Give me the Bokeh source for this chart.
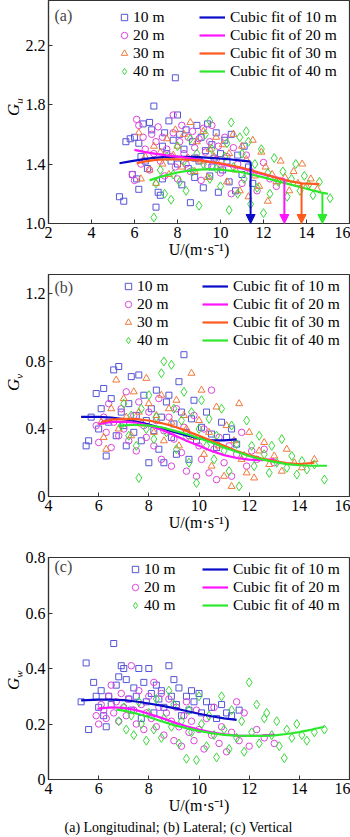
import math
from bokeh.plotting import figure
from bokeh.layouts import column, row
from bokeh.models import (Legend, LegendItem, Label, Title, FixedTicker, Arrow,
                          NormalHead, ColumnDataSource, Range1d, Div)
from bokeh.embed import file_html
from bokeh.resources import INLINE

FONT = "Liberation Serif"

# ---------------- data ----------------
heights_a = ["10 m", "20 m", "30 m", "40 m"]
heights_c = ["10 m", "20 m", "40 m"]

a10 = [(5.3,1.18),(5.5,1.15),(5.6,1.55),(5.8,1.57),(5.9,1.33),(6.0,1.58),(6.1,1.30),(6.2,1.23),(6.3,1.45),(6.4,1.67),
       (6.5,1.42),(6.6,1.37),(6.7,1.68),(6.8,1.63),(6.9,1.79),(7.0,1.11),(7.1,1.21),(7.2,1.19),(7.3,1.52),(7.4,1.61),
       (7.5,1.47),(7.6,1.69),(7.7,1.42),(7.8,1.56),(7.9,1.98),(8.0,1.73),(8.1,1.60),(8.2,1.26),(8.3,1.50),(8.4,1.63),
       (8.5,1.37),(8.6,1.14),(8.7,1.55),(8.8,1.44),(8.9,1.66),(9.0,1.42),(9.1,1.58),(9.2,1.24),(9.3,1.49),(9.4,1.67),
       (9.5,1.32),(9.6,1.53),(9.7,1.44),(9.8,1.61),(9.9,1.21),(10.0,1.47),(10.1,1.36),(10.2,1.56),(10.4,1.28),(10.5,1.60),
       (10.7,1.22),(10.8,1.46),(11.0,1.33),(11.1,1.52),(11.3,1.38),(11.5,1.27),(6.2,1.54),(7.3,1.30),(8.0,1.40),(8.8,1.31),
       (9.6,1.38),(10.3,1.42)]
a20 = [(5.9,1.33),(6.0,1.29),(6.1,1.70),(6.2,1.66),(6.3,1.40),(6.4,1.58),(6.5,1.50),(6.7,1.36),(6.8,1.60),(6.9,1.47),
       (7.0,1.55),(7.1,1.65),(7.2,1.42),(7.3,1.58),(7.4,1.32),(7.5,1.50),(7.8,1.73),(7.7,1.45),(7.8,1.61),(7.9,1.38),
       (8.0,1.30),(8.1,1.55),(8.2,1.66),(8.3,1.47),(8.4,1.40),(8.5,1.58),(8.6,1.35),(8.7,1.62),(8.8,1.51),(8.9,1.44),
       (9.0,1.57),(9.1,1.29),(9.2,1.64),(9.3,1.48),(9.4,1.39),(9.5,1.55),(9.6,1.66),(9.8,1.43),(9.9,1.52),(10.0,1.34),
       (10.2,1.58),(10.3,1.45),(10.5,1.20),(10.6,1.51),(10.8,1.40),(11.0,1.27),(11.2,1.46),(11.4,1.35),(11.7,1.22),(12.0,1.41),
       (12.3,1.30),(12.6,1.25)]
a30 = [(6.2,1.61),(6.3,1.30),(6.5,1.45),(6.7,1.36),(6.9,1.52),(7.0,1.27),(7.2,1.48),(7.3,1.40),(7.5,1.57),(7.6,1.33),
       (7.8,1.46),(7.9,1.63),(8.0,1.52),(8.2,1.38),(8.3,1.60),(8.5,1.44),(8.6,1.68),(8.8,1.35),(8.9,1.55),(9.1,1.42),
       (9.2,1.62),(9.4,1.31),(9.5,1.50),(9.7,1.45),(9.8,1.58),(10.0,1.38),(10.1,1.53),(10.3,1.28),(10.4,1.47),(10.6,1.60),
       (10.7,1.36),(10.9,1.22),(11.0,1.52),(11.2,1.43),(11.3,1.18),(11.5,1.56),(11.6,1.32),(11.8,1.25),(11.9,1.48),(12.1,1.38),
       (12.2,1.15),(12.4,1.33),(12.6,1.28),(12.8,1.42),(13.0,1.31),(13.2,1.22),(13.4,1.35),(13.6,1.27),(13.8,1.40),(14.0,1.25),
       (14.2,1.30),(14.5,1.23)]
a40 = [(6.9,1.04),(7.0,1.27),(7.2,1.36),(7.4,1.20),(7.5,1.45),(7.7,1.16),(7.8,1.33),(8.0,1.52),(8.1,1.28),(8.3,1.42),
       (8.4,1.22),(8.6,1.57),(8.7,1.35),(8.9,1.47),(9.0,1.12),(9.2,1.40),(9.3,1.60),(9.5,1.30),(9.6,1.50),(9.8,1.37),
       (9.5,1.69),(10.0,1.25),(10.2,1.45),(10.3,1.54),(10.4,1.09),(10.6,1.38),(10.5,1.68),(10.8,1.20),(11.0,1.47),(11.1,1.30),
       (11.3,1.55),(11.4,1.13),(11.6,1.40),(11.7,1.24),(11.9,1.50),(12.0,1.07),(12.2,1.34),(12.3,1.20),(12.5,1.44),(12.7,1.28),
       (12.9,1.35),(13.1,1.18),(13.3,1.30),(13.5,1.40),(13.7,1.22),(13.9,1.32),(14.1,1.26),(14.3,1.19),(14.6,1.28),(15.1,1.17),
       (11.2,1.62),(10.9,1.58)]

b10 = [(5.5,0.30),(5.6,0.33),(5.7,0.47),(5.9,0.61),(6.0,0.40),(6.1,0.52),(6.2,0.64),(6.3,0.24),(6.4,0.44),(6.5,0.58),
       (6.6,0.75),(6.7,0.36),(6.8,0.77),(6.9,0.50),(7.0,0.42),(7.1,0.30),(7.2,0.55),(7.3,0.71),(7.4,0.38),(7.5,0.48),
       (7.6,0.72),(7.7,0.33),(7.8,0.60),(7.9,0.45),(8.0,0.20),(8.1,0.52),(8.2,0.39),(8.3,0.63),(8.4,0.28),(8.5,0.47),
       (8.6,0.20),(8.7,0.56),(8.8,0.60),(8.9,0.35),(9.0,0.43),(9.1,0.25),(9.2,0.68),(9.3,0.50),(9.4,0.84),(9.5,0.38),
       (9.6,0.22),(9.7,0.46),(9.8,0.57),(9.9,0.33),(10.1,0.41),(10.3,0.50),(10.5,0.37),(10.7,0.29),(10.9,0.44),(11.1,0.35),
       (11.3,0.40),(11.5,0.31)]
b20 = [(5.9,0.42),(6.0,0.32),(6.2,0.47),(6.3,0.38),(6.4,0.55),(6.5,0.29),(6.6,0.44),(6.8,0.36),(6.9,0.52),(7.0,0.40),
       (7.1,0.62),(7.2,0.33),(7.4,0.48),(7.5,0.27),(7.6,0.56),(7.8,0.42),(7.9,0.35),(8.0,0.50),(8.2,0.30),(8.3,0.45),
       (8.4,0.58),(8.5,0.22),(8.6,0.39),(8.8,0.47),(8.9,0.18),(9.0,0.34),(9.1,0.52),(9.3,0.26),(9.4,0.41),(9.5,0.15),
       (9.6,0.36),(9.8,0.48),(9.9,0.12),(10.0,0.30),(10.1,0.22),(10.2,0.40),(10.4,0.14),(10.5,0.63),(10.6,0.28),(10.7,0.10),
       (10.8,0.35),(11.0,0.20),(11.2,0.30),(11.3,0.12),(11.5,0.25),(11.7,0.38),(11.9,0.18),(12.1,0.27),(12.3,0.22),(12.6,0.28),
       (13.0,0.20)]
b30 = [(6.1,0.44),(6.2,0.35),(6.3,0.28),(6.5,0.52),(6.7,0.69),(6.8,0.40),(7.0,0.58),(7.1,0.47),(7.3,0.36),(7.4,0.62),
       (7.6,0.50),(7.7,0.43),(7.9,0.70),(8.0,0.55),(8.2,0.38),(8.3,0.48),(8.5,0.60),(8.6,0.33),(8.8,0.52),(8.9,0.44),
       (9.1,0.57),(9.2,0.30),(9.4,0.48),(9.5,0.40),(9.7,0.73),(9.8,0.35),(10.0,0.45),(10.1,0.63),(10.2,0.25),(10.4,0.38),
       (10.5,0.18),(10.7,0.53),(10.8,0.30),(11.0,0.12),(11.1,0.42),(11.3,0.06),(11.4,0.33),(11.6,0.55),(11.7,0.22),(11.9,0.14),
       (12.0,0.38),(12.2,0.11),(12.4,0.27),(12.6,0.32),(12.8,0.19),(13.0,0.24),(13.3,0.15),(13.5,0.28),(13.8,0.20),(14.1,0.17),
       (14.6,0.22)]
b40 = [(6.9,0.42),(7.0,0.55),(7.2,0.36),(7.3,0.48),(7.5,0.30),(7.6,0.11),(7.7,0.52),(7.9,0.40),(8.0,0.60),(8.2,0.34),
       (8.3,0.47),(8.5,0.73),(8.6,0.80),(8.7,0.38),(8.9,0.78),(9.0,0.52),(9.1,0.28),(9.3,0.45),(9.4,0.62),(9.5,0.35),
       (9.6,0.20),(9.7,0.50),(9.9,0.08),(10.0,0.40),(10.1,0.57),(10.3,0.30),(10.4,0.46),(10.6,0.22),(10.7,0.36),(10.9,0.52),
       (11.0,0.27),(11.2,0.15),(11.3,0.42),(11.5,0.31),(11.6,0.06),(11.8,0.24),(11.9,0.45),(12.1,0.30),(12.2,0.18),(12.4,0.36),
       (12.6,0.25),(12.8,0.14),(12.9,0.30),(13.1,0.20),(13.3,0.34),(13.5,0.17),(13.7,0.24),(13.9,0.13),(14.1,0.21),(14.3,0.16),
       (14.6,0.19),(15.0,0.10)]

c10 = [(5.3,0.28),(5.5,0.42),(5.6,0.18),(5.8,0.35),(5.9,0.30),(6.0,0.26),(6.1,0.32),(6.2,0.23),(6.3,0.19),(6.4,0.30),
       (6.5,0.27),(6.6,0.49),(6.7,0.34),(6.8,0.37),(6.9,0.41),(7.0,0.40),(7.1,0.36),(7.2,0.29),(7.3,0.25),(7.4,0.33),
       (7.5,0.30),(7.6,0.40),(7.7,0.22),(7.8,0.35),(7.9,0.28),(8.0,0.40),(8.1,0.31),(8.2,0.24),(8.3,0.34),(8.4,0.29),
       (8.5,0.32),(8.6,0.26),(8.8,0.41),(8.9,0.30),(9.0,0.36),(9.1,0.27),(9.2,0.33),(9.3,0.23),(9.5,0.30),(9.6,0.25),
       (9.7,0.32),(9.8,0.28),(10.0,0.31),(10.1,0.24),(10.3,0.28),(10.5,0.26),(10.7,0.22),(10.9,0.27),(11.1,0.24),(11.3,0.23),
       (11.6,0.25)]
c20 = [(5.9,0.23),(6.0,0.20),(6.1,0.27),(6.2,0.25),(6.3,0.22),(6.4,0.30),(6.5,0.34),(6.6,0.24),(6.7,0.28),(6.8,0.21),
       (6.9,0.31),(7.0,0.26),(7.1,0.23),(7.2,0.29),(7.3,0.41),(7.4,0.25),(7.5,0.20),(7.6,0.32),(7.7,0.27),(7.8,0.18),
       (7.9,0.24),(8.0,0.30),(8.1,0.22),(8.2,0.35),(8.3,0.19),(8.4,0.26),(8.5,0.31),(8.6,0.16),(8.7,0.24),(8.8,0.29),
       (8.9,0.21),(9.0,0.14),(9.1,0.26),(9.2,0.19),(9.3,0.12),(9.4,0.23),(9.5,0.28),(9.6,0.17),(9.7,0.21),(9.8,0.14),
       (9.9,0.25),(10.0,0.18),(10.2,0.11),(10.3,0.22),(10.5,0.16),(10.6,0.26),(10.8,0.13),(10.9,0.19),(11.1,0.10),(11.3,0.17),
       (11.5,0.28),(11.6,0.14),(11.8,0.24),(12.0,0.12),(12.3,0.18),(12.6,0.15),(13.0,0.13)]
c40 = [(6.8,0.21),(7.0,0.26),(7.1,0.18),(7.3,0.23),(7.4,0.16),(7.6,0.28),(7.7,0.20),(7.9,0.14),(8.0,0.24),(8.2,0.18),
       (8.3,0.29),(8.5,0.15),(8.6,0.22),(8.8,0.32),(8.9,0.19),(9.0,0.27),(9.2,0.13),(9.3,0.21),(9.5,0.075),(9.6,0.25),
       (9.7,0.17),(9.9,0.07),(10.0,0.30),(10.1,0.20),(10.3,0.12),(10.4,0.23),(10.6,0.16),(10.7,0.08),(10.9,0.30),(11.0,0.18),
       (11.2,0.11),(11.3,0.25),(11.5,0.15),(11.7,0.21),(11.8,0.10),(12.0,0.35),(12.1,0.17),(12.3,0.27),(12.4,0.13),(12.6,0.22),
       (12.7,0.24),(12.9,0.16),(13.1,0.21),(13.2,0.12),(13.4,0.077),(13.5,0.18),(13.7,0.15),(13.9,0.20),(14.1,0.16),(14.3,0.14),
       (14.6,0.17),(15.0,0.18)]

# cubic-fit curves
fa10_x = [5.3, 5.8, 6.3, 6.8, 7.3, 7.8, 8.3, 9.0, 9.7, 10.4, 11.0, 11.4]
fa10_y = [1.405, 1.418, 1.430, 1.440, 1.446, 1.449, 1.449, 1.446, 1.440, 1.432, 1.423, 1.416]
fa20_x = [6.0, 6.5, 7.0, 7.5, 8.0, 9.0, 10.0, 11.0, 12.0, 13.0]
fa20_y = [1.495, 1.480, 1.468, 1.458, 1.450, 1.430, 1.400, 1.370, 1.330, 1.296]
fa30_x = [6.1, 6.5, 7.0, 7.5, 8.0, 9.0, 10.0, 11.0, 12.0, 13.0, 13.8, 14.6]
fa30_y = [1.405, 1.418, 1.428, 1.432, 1.432, 1.425, 1.405, 1.375, 1.335, 1.290, 1.270, 1.265]
fa40_x = [6.7, 7.0, 7.5, 8.0, 8.5, 9.0, 9.5, 10.0, 11.0, 12.0, 13.0, 14.0, 14.7, 15.0]
fa40_y = [1.290, 1.305, 1.325, 1.343, 1.356, 1.363, 1.366, 1.362, 1.345, 1.310, 1.272, 1.234, 1.208, 1.200]
arrow_x = [11.4, 12.97, 13.77, 14.74]
arrow_y = [1.416, 1.296, 1.270, 1.207]

fb10_x = [5.3, 6.0, 6.5, 7.0, 7.5, 8.0, 8.5, 9.0, 9.5, 10.0, 10.5, 11.0, 11.5]
fb10_y = [0.472, 0.472, 0.468, 0.458, 0.444, 0.426, 0.405, 0.383, 0.362, 0.344, 0.333, 0.332, 0.338]
fb20_x = [6.0, 6.5, 7.0, 7.5, 8.0, 8.5, 9.0, 9.5, 10.0, 10.5, 11.0, 11.5, 12.0, 12.5, 13.0]
fb20_y = [0.430, 0.442, 0.444, 0.437, 0.420, 0.395, 0.365, 0.330, 0.300, 0.270, 0.245, 0.228, 0.218, 0.215, 0.220]
fb30_x = [6.1, 6.5, 7.0, 7.5, 8.0, 8.5, 9.0, 9.5, 10.0, 10.5, 11.0, 11.5, 12.0, 12.5, 13.0, 13.5, 14.0, 14.6]
fb30_y = [0.440, 0.455, 0.460, 0.458, 0.450, 0.435, 0.415, 0.390, 0.360, 0.330, 0.300, 0.270, 0.245, 0.225, 0.210, 0.198, 0.192, 0.200]
fb40_x = [6.8, 7.5, 8.0, 8.5, 9.0, 9.5, 10.0, 10.5, 11.0, 11.5, 12.0, 12.5, 13.0, 13.5, 14.0, 14.5, 15.1]
fb40_y = [0.420, 0.425, 0.420, 0.410, 0.390, 0.370, 0.345, 0.320, 0.290, 0.265, 0.240, 0.220, 0.205, 0.192, 0.185, 0.182, 0.182]

fc10_x = [5.3, 6.0, 6.5, 7.0, 7.5, 8.0, 8.5, 9.0, 9.5, 10.0, 10.5, 11.0, 11.5]
fc10_y = [0.285, 0.288, 0.288, 0.286, 0.281, 0.274, 0.266, 0.257, 0.247, 0.237, 0.228, 0.220, 0.215]
fc20_x = [5.95, 6.5, 7.0, 7.5, 8.0, 8.5, 9.0, 9.5, 10.0, 10.5, 11.0, 11.5, 12.0, 12.5, 13.0]
fc20_y = [0.255, 0.260, 0.258, 0.250, 0.237, 0.222, 0.206, 0.192, 0.180, 0.170, 0.163, 0.158, 0.157, 0.158, 0.162]
fc40_x = [6.7, 7.0, 7.5, 8.0, 8.5, 9.0, 9.5, 10.0, 10.5, 11.0, 11.5, 12.0, 12.5, 13.0, 13.5, 14.0, 14.5, 15.0]
fc40_y = [0.252, 0.248, 0.238, 0.225, 0.210, 0.196, 0.185, 0.175, 0.167, 0.161, 0.158, 0.157, 0.157, 0.159, 0.164, 0.171, 0.180, 0.190]

xticks_a = [2, 4, 6, 8, 10, 12, 14, 16]
yticks_a = [1.0, 1.4, 1.8, 2.2]
ylabels_a = ["1.0", "1.4", "1.8", "2.2"]
xticks_bc = [4, 6, 8, 10, 12, 14, 16]
yticks_b = [0, 0.4, 0.8, 1.2]
ylabels_b = ["0", "0.4", "0.8", "1.2"]
yticks_c = [0, 0.2, 0.4, 0.6, 0.8]
ylabels_c = ["0", "0.2", "0.4", "0.6", "0.8"]
ytitle_sub = ["u", "v", "w"]

# ---------------- styles ----------------
MK_COL = {"10 m": "#5555d8", "20 m": "#dc44dc", "30 m": "#f07a3c", "40 m": "#3ad83a"}
LN_COL = {"10 m": "#0a0ac8", "20 m": "#ff14ff", "30 m": "#ff5a1e", "40 m": "#2ee82e"}
MARKER = {"10 m": "square", "20 m": "circle", "30 m": "triangle", "40 m": "diamond"}
MSIZE = {"10 m": 6, "20 m": 6.5, "30 m": 7, "40 m": 9}

LEFT_W = 22


def make_fig(h, bt, bb, xr, yr, xticks, yticks, ylabels):
    p = figure(width=350 - LEFT_W, height=h, output_backend="svg", toolbar_location=None,
               x_range=Range1d(*xr), y_range=Range1d(*yr),
               min_border_left=46 - LEFT_W, min_border_right=1, min_border_top=bt, min_border_bottom=bb)
    p.grid.visible = False
    p.background_fill_color = "white"
    p.border_fill_color = "white"
    p.outline_line_color = "#333333"
    p.outline_line_width = 1.2
    for ax in (p.xaxis[0], p.yaxis[0]):
        ax.major_tick_in = 4
        ax.major_tick_out = 0
        ax.minor_tick_in = 0
        ax.minor_tick_out = 0
        ax.axis_line_color = "#333333"
        ax.axis_line_width = 1.2
        ax.major_tick_line_color = "#333333"
        ax.major_label_text_font = FONT
        ax.major_label_text_font_size = "16px"
        ax.major_label_text_color = "black"
        ax.axis_label_text_font = FONT
        ax.axis_label_text_font_size = "16px"
        ax.axis_label_text_font_style = "normal"
        ax.axis_label_text_color = "black"
    p.xaxis[0].ticker = FixedTicker(ticks=xticks)
    p.yaxis[0].ticker = FixedTicker(ticks=yticks)
    p.yaxis[0].major_label_overrides = dict(zip(yticks, ylabels))
    p.xaxis[0].major_label_standoff = 3
    p.yaxis[0].major_label_standoff = 3
    p.xaxis[0].axis_label = "U/(m·s⁻¹)"
    p.xaxis[0].axis_label_standoff = 0
    p.yaxis[0].axis_label = None
    return p


def ytitle(h, sub, bottom_y):
    html = (
        f'<div style="position:relative;width:{LEFT_W}px;height:{h}px;">'
        f'<div style="position:absolute;left:5px;top:{bottom_y}px;transform:rotate(-90deg);'
        f'transform-origin:left top;white-space:nowrap;font-family:\'{FONT}\';font-size:17px;'
        f'line-height:17px;color:black;"><i>G</i><sub style="font-size:11px;"><i>{sub}</i></sub></div></div>'
    )
    return Div(text=html, width=LEFT_W, height=h, margin=0)


def add_series(p, names, pts_list, fits, panel_letter, leg_mk_pos, leg_ln_pos, letter_y):
    mk_items, ln_items = [], []
    for name, pts in zip(names, pts_list):
        src = ColumnDataSource(dict(x=[q[0] for q in pts], y=[q[1] for q in pts]))
        r = p.scatter("x", "y", source=src, marker=MARKER[name], size=MSIZE[name],
                      fill_color=None, line_color=MK_COL[name], line_width=1)
        mk_items.append(LegendItem(label=name, renderers=[r]))
    for name, (fx, fy) in zip(names, fits):
        r = p.line(fx, fy, line_color=LN_COL[name], line_width=2.2)
        ln_items.append(LegendItem(label="Cubic fit of " + name, renderers=[r]))
    for items, pos, gw, so in ((mk_items, leg_mk_pos, 16, 1), (ln_items, leg_ln_pos, 26, 5)):
        lg = Legend(items=items, location=pos, orientation="vertical",
                    glyph_width=gw, glyph_height=16, label_height=16, label_standoff=so,
                    spacing=0, padding=0, margin=0, border_line_color=None,
                    background_fill_alpha=0, label_text_font=FONT,
                    label_text_font_size="15.5px", label_text_color="black")
        p.add_layout(lg)
    p.add_layout(Label(x=6, y=letter_y, x_units="screen", y_units="screen", text=panel_letter,
                       text_font=FONT, text_font_size="16px", text_baseline="middle"))


# ---------------- panel (a) ----------------
pa = make_fig(264, 0, 41, (2, 16), (1.0, 2.5), xticks_a, yticks_a, ylabels_a)
add_series(pa, heights_a, [a10, a20, a30, a40],
           [(fa10_x, fa10_y), (fa20_x, fa20_y), (fa30_x, fa30_y), (fa40_x, fa40_y)],
           "(a)", (68, 143), (151, 143), 208)
for ax_, ay_, nm in zip(arrow_x, arrow_y, heights_a):
    pa.add_layout(Arrow(x_start=ax_, y_start=ay_, x_end=ax_, y_end=1.0,
                        line_color=LN_COL[nm], line_width=2,
                        end=NormalHead(size=9, fill_color=LN_COL[nm], line_color=LN_COL[nm])))

# ---------------- panel (b) ----------------
pb = make_fig(281, 10, 49, (4, 16), (0, 1.315), xticks_bc, yticks_b, ylabels_b)
add_series(pb, heights_a, [b10, b20, b30, b40],
           [(fb10_x, fb10_y), (fb20_x, fb20_y), (fb30_x, fb30_y), (fb40_x, fb40_y)],
           "(b)", (72, 147), (154, 147), 209)

# ---------------- panel (c) ----------------
pc = make_fig(292, 12, 58, (4, 16), (0, 0.8), xticks_bc, yticks_c, ylabels_c)
add_series(pc, heights_c, [c10, c20, c40],
           [(fc10_x, fc10_y), (fc20_x, fc20_y), (fc40_x, fc40_y)],
           "(c)", (79, 165), (154, 165), 213)
pc.add_layout(Title(text="(a) Longitudinal; (b) Lateral; (c) Vertical", align="left", offset=16,
                    text_font=FONT, text_font_size="14px", text_font_style="normal",
                    text_color="black", standoff=2), "below")

layout = column(
    row(ytitle(264, ytitle_sub[0], 116), pa, spacing=0),
    row(ytitle(281, ytitle_sub[1], 127), pb, spacing=0),
    row(ytitle(292, ytitle_sub[2], 145), pc, spacing=0),
    spacing=0,
)
open("out.html", "w").write(file_html(layout, INLINE))
